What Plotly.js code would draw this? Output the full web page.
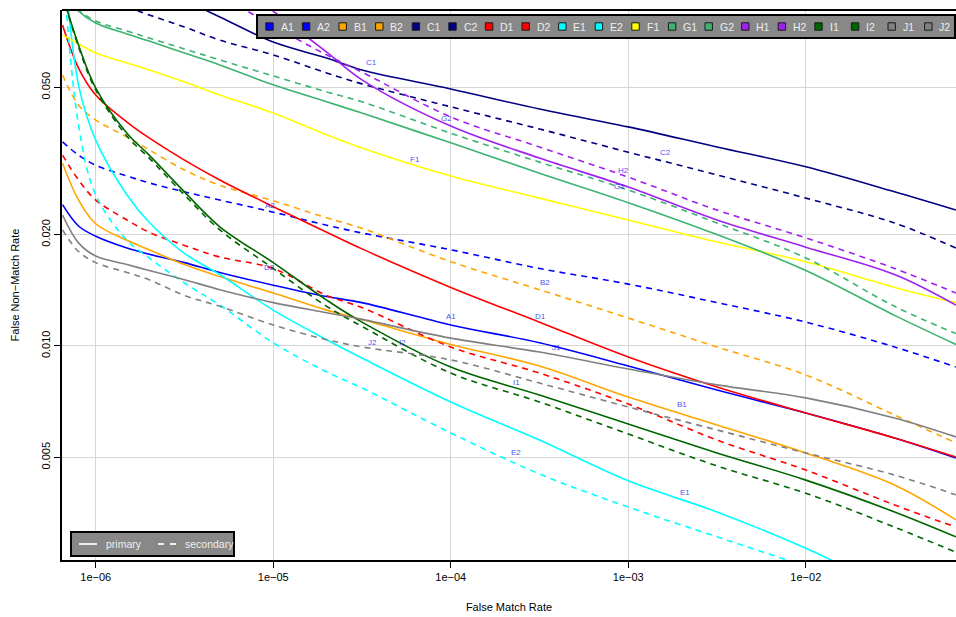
<!DOCTYPE html>
<html>
<head>
<meta charset="utf-8">
<script src="https://cdn.plot.ly/plotly-3.0.1.min.js"></script>
<style>
  html, body { margin: 0; padding: 0; background: #ffffff; overflow: hidden; }
  #chart { width: 956px; height: 617px; }
</style>
</head>
<body>
<div id="chart"></div>
<script>
// False match rate sample points shared by every DET curve
const fmr = [6.5e-7, 8e-7, 1e-6, 1.5e-6, 2e-6, 3.16e-6, 5e-6, 1e-5, 2e-5, 3.16e-5,
             1e-4, 3.16e-4, 1e-3, 3.16e-3, 1e-2, 3.16e-2, 7e-2];

// False non-match rate of each algorithm (1 = primary, 2 = secondary)
const A1 = [0.0241, 0.0211, 0.0198, 0.0184, 0.0177, 0.0168, 0.0158, 0.0146, 0.0136, 0.0131, 0.0114, 0.0102, 0.00883, 0.00760, 0.00659, 0.00564, 0.00498];
const A2 = [0.0356, 0.0328, 0.0308, 0.0288, 0.0276, 0.0261, 0.0248, 0.0230, 0.0212, 0.0202, 0.0182, 0.0162, 0.0147, 0.0131, 0.0116, 0.00994, 0.00877];
const B1 = [0.0312, 0.0248, 0.0214, 0.0193, 0.0182, 0.0166, 0.0154, 0.0139, 0.0125, 0.0118, 0.0101, 0.00883, 0.00728, 0.00612, 0.00514, 0.00421, 0.00339];
const B2 = [0.0540, 0.0448, 0.0408, 0.0367, 0.0339, 0.0299, 0.0272, 0.0247, 0.0222, 0.0208, 0.0169, 0.0142, 0.0119, 0.00994, 0.00835, 0.00651, 0.00547];
const C1 = [null, null, null, null, null, 0.0861, 0.0775, 0.0663, 0.0600, 0.0557, 0.0495, 0.0437, 0.0391, 0.0345, 0.0305, 0.0261, 0.0233];
const C2 = [null, null, 0.0878, 0.0825, 0.0785, 0.0728, 0.0671, 0.0612, 0.0547, 0.0511, 0.0443, 0.0386, 0.0334, 0.0290, 0.0251, 0.0215, 0.0184];
const D1 = [0.0737, 0.0564, 0.0477, 0.0403, 0.0365, 0.0318, 0.0281, 0.0238, 0.0203, 0.0183, 0.0144, 0.0116, 0.00934, 0.00775, 0.00659, 0.00564, 0.00501];
const D2 = [0.0328, 0.0281, 0.0248, 0.0219, 0.0203, 0.0187, 0.0174, 0.0162, 0.0137, 0.0127, 0.00994, 0.00845, 0.00697, 0.00557, 0.00462, 0.00372, 0.00324];
const E1 = [0.1251, 0.0508, 0.0360, 0.0256, 0.0216, 0.0178, 0.0156, 0.0125, 0.0104, 0.00928, 0.00706, 0.00557, 0.00432, 0.00356, 0.00284, 0.00219, 0.00187];
const E2 = [0.1105, 0.0396, 0.0256, 0.0193, 0.0173, 0.0148, 0.0129, 0.0102, 0.00851, 0.00770, 0.00582, 0.00451, 0.00367, 0.00305, 0.00254, 0.00212, 0.00187];
const F1 = [0.0693, 0.0655, 0.0619, 0.0582, 0.0557, 0.0517, 0.0477, 0.0426, 0.0372, 0.0343, 0.0288, 0.0251, 0.0219, 0.0191, 0.0169, 0.0144, 0.0131];
const G1 = [0.0905, 0.0804, 0.0746, 0.0697, 0.0667, 0.0619, 0.0575, 0.0508, 0.0457, 0.0426, 0.0354, 0.0293, 0.0244, 0.0200, 0.0160, 0.0121, 0.0101];
const G2 = [0.0905, 0.0809, 0.0756, 0.0710, 0.0680, 0.0635, 0.0593, 0.0537, 0.0486, 0.0457, 0.0376, 0.0314, 0.0264, 0.0215, 0.0173, 0.0128, 0.0108];
const H1 = [null, null, null, null, null, null, 0.1038, 0.0804, 0.0623, 0.0524, 0.0393, 0.0322, 0.0269, 0.0219, 0.0185, 0.0156, 0.0129];
const H2 = [null, null, null, null, null, null, 0.0889, 0.0733, 0.0612, 0.0550, 0.0416, 0.0345, 0.0286, 0.0233, 0.0196, 0.0162, 0.0139];
const I1 = [0.0889, 0.0651, 0.0498, 0.0376, 0.0328, 0.0261, 0.0210, 0.0168, 0.0133, 0.0116, 0.00877, 0.00737, 0.00615, 0.00514, 0.00434, 0.00356, 0.00305];
const I2 = [0.0889, 0.0643, 0.0492, 0.0369, 0.0322, 0.0256, 0.0206, 0.0162, 0.0128, 0.0113, 0.00845, 0.00706, 0.00578, 0.00474, 0.00400, 0.00324, 0.00277];
const J1 = [0.0226, 0.0190, 0.0175, 0.0166, 0.0160, 0.0151, 0.0142, 0.0131, 0.0123, 0.0118, 0.0105, 0.00963, 0.00867, 0.00785, 0.00724, 0.00639, 0.00568];
const J2 = [0.0206, 0.0180, 0.0168, 0.0158, 0.0151, 0.0137, 0.0128, 0.0114, 0.0104, 0.00994, 0.00917, 0.00794, 0.00684, 0.00593, 0.00514, 0.00448, 0.00396];

const seriesNames = ['A1', 'A2', 'B1', 'B2', 'C1', 'C2', 'D1', 'D2', 'E1', 'E2', 'F1',
                     'G1', 'G2', 'H1', 'H2', 'I1', 'I2', 'J1', 'J2'];
const seriesValues = [A1, A2, B1, B2, C1, C2, D1, D2, E1, E2, F1, G1, G2, H1, H2, I1, I2, J1, J2];

// Axis ticks
const xTickVals = [1e-6, 1e-5, 1e-4, 1e-3, 1e-2];
const xTickText = ['1e\u221206', '1e\u221205', '1e\u221204', '1e\u221203', '1e\u221202'];
const yTickVals = [0.005, 0.010, 0.020, 0.050];
const yTickText = ['0.005', '0.010', '0.020', '0.050'];

// Where each curve's tag is written
const tagNames = ['C1', 'G2', 'F1', 'C2', 'H2', 'G1', 'A2', 'D2', 'B2', 'A1', 'D1', 'J1', 'J2', 'I2', 'I1', 'B1', 'E2', 'E1'];
const tagFmr   = [3.59e-5, 9.50e-5, 6.27e-5, 1.627e-3, 9.43e-4, 8.96e-4, 9.56e-6, 9.56e-6, 3.385e-4, 1.0e-4, 3.21e-4, 3.96e-4, 3.64e-5, 5.36e-5, 2.353e-4, 2.002e-3, 2.323e-4, 2.081e-3];
const tagFnmr  = [0.0582, 0.0411, 0.0320, 0.0334, 0.0299, 0.0269, 0.0240, 0.01625, 0.01481, 0.01205, 0.01205, 0.00988, 0.01025, 0.01025, 0.00799, 0.00697, 0.00514, 0.00401];

// Styling
const familyColor = {
  A: '#0000ff', B: '#ffa500', C: '#000080', D: '#ff0000', E: '#00ffff',
  F: '#ffff00', G: '#3cb371', H: '#a020f0', I: '#006400', J: '#808080'
};
const FONT = 'Liberation Sans, Arial, Helvetica, sans-serif';
const W = 956, H = 617;
const M = { l: 62, r: 0, t: 10, b: 57 };
const plotW = W - M.l - M.r, plotH = H - M.t - M.b;
const px2x = p => (p - M.l) / plotW;
const px2y = p => (M.t + plotH - p) / plotH;

const traces = seriesNames.map((name, i) => ({
  type: 'scatter',
  mode: 'lines',
  name: name,
  x: fmr,
  y: seriesValues[i],
  connectgaps: false,
  showlegend: false,
  hoverinfo: 'skip',
  line: {
    color: familyColor[name[0]],
    width: 1.6,
    shape: 'spline',
    smoothing: 1,
    dash: name[1] === '2' ? '6px,5px' : 'solid'
  }
}));

const shapes = [];
const annotations = [];

// top edge of the plotting frame
shapes.push({ type: 'line', xref: 'paper', yref: 'paper', x0: 0, x1: 1, y0: 1, y1: 1,
              line: { color: '#000', width: 1.8 }, layer: 'above' });

// curve tags
tagNames.forEach((t, i) => {
  annotations.push({
    x: Math.log10(tagFmr[i]), y: Math.log10(tagFnmr[i]), xref: 'x', yref: 'y',
    text: t, showarrow: false, xanchor: 'center', yanchor: 'middle',
    font: { family: FONT, size: 8, color: 'rgba(20,20,240,0.8)' }
  });
});

// key of algorithms, across the top
const keyBox = { x0: 257, x1: 955, y0: 15, y1: 38 };
shapes.push({ type: 'rect', xref: 'paper', yref: 'paper',
  x0: px2x(keyBox.x0), x1: px2x(keyBox.x1), y0: px2y(keyBox.y1), y1: px2y(keyBox.y0),
  fillcolor: '#888888', line: { color: '#000', width: 2 }, layer: 'above' });
const keyStep = 36.6, keyFirst = 269.5, keyMid = 26.5, sq = 3.7;
seriesNames.forEach((name, i) => {
  const cx = keyFirst + i * keyStep;
  shapes.push({ type: 'rect', xref: 'paper', yref: 'paper',
    x0: px2x(cx - sq), x1: px2x(cx + sq), y0: px2y(keyMid + sq), y1: px2y(keyMid - sq),
    fillcolor: familyColor[name[0]], line: { color: '#1a1a1a', width: 1 }, layer: 'above' });
  annotations.push({ xref: 'paper', yref: 'paper', x: px2x(cx + 9), y: px2y(keyMid),
    xanchor: 'left', yanchor: 'middle', showarrow: false, text: name,
    font: { family: FONT, size: 10.5, color: '#eeeeee' } });
});

// key of line types, bottom left
const typeBox = { x0: 71, x1: 234, y0: 532, y1: 556 };
const typeMid = 544;
shapes.push({ type: 'rect', xref: 'paper', yref: 'paper',
  x0: px2x(typeBox.x0), x1: px2x(typeBox.x1), y0: px2y(typeBox.y1), y1: px2y(typeBox.y0),
  fillcolor: '#888888', line: { color: '#000', width: 2 }, layer: 'above' });
const lineTypes = [
  { label: 'primary', x0: 79, x1: 97, dash: 'solid' },
  { label: 'secondary', x0: 158, x1: 176, dash: '6px,6px' }
];
lineTypes.forEach(lt => {
  shapes.push({ type: 'line', xref: 'paper', yref: 'paper',
    x0: px2x(lt.x0), x1: px2x(lt.x1), y0: px2y(typeMid), y1: px2y(typeMid),
    line: { color: '#eeeeee', width: 2, dash: lt.dash }, layer: 'above' });
  annotations.push({ xref: 'paper', yref: 'paper', x: px2x(lt.x1 + 7), y: px2y(typeMid),
    xanchor: 'left', yanchor: 'middle', showarrow: false, text: lt.label,
    font: { family: FONT, size: 10.5, color: '#eeeeee' } });
});

const layout = {
  width: W, height: H,
  margin: M,
  paper_bgcolor: '#ffffff',
  plot_bgcolor: '#ffffff',
  showlegend: false,
  font: { family: FONT, size: 11, color: '#000' },
  xaxis: {
    type: 'log',
    range: [-6.19, -1.154],
    tickmode: 'array', tickvals: xTickVals, ticktext: xTickText,
    ticks: 'outside', ticklen: 6, tickwidth: 1, tickcolor: '#000',
    showline: true, linecolor: '#000', linewidth: 1.8, mirror: false,
    showgrid: true, gridcolor: '#d6d6d6', gridwidth: 1,
    zeroline: false,
    tickfont: { family: FONT, size: 11, color: '#000' },
    title: { text: 'False Match Rate', font: { family: FONT, size: 11, color: '#000' }, standoff: 21 }
  },
  yaxis: {
    type: 'log',
    range: [-2.5784, -1.0919],
    tickmode: 'array', tickvals: yTickVals, ticktext: yTickText,
    tickangle: -90,
    ticks: 'outside', ticklen: 6, tickwidth: 1, tickcolor: '#000',
    showline: true, linecolor: '#000', linewidth: 1.8, mirror: false,
    showgrid: true, gridcolor: '#d6d6d6', gridwidth: 1,
    zeroline: false,
    tickfont: { family: FONT, size: 11, color: '#000' },
    title: { text: 'False Non\u2212Match Rate', font: { family: FONT, size: 11, color: '#000' }, standoff: 18 }
  },
  shapes: shapes,
  annotations: annotations
};

Plotly.newPlot('chart', traces, layout, { staticPlot: true, displayModeBar: false });
</script>
</body>
</html>
